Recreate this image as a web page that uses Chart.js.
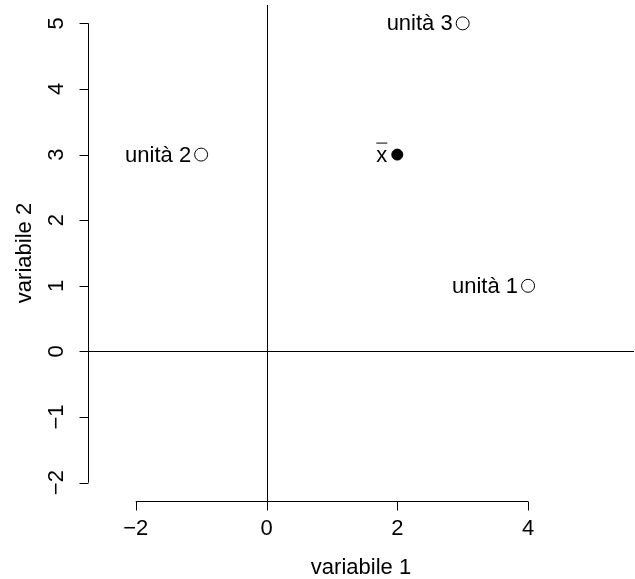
<!DOCTYPE html>
<html>
<head>
<meta charset="utf-8">
<script src="https://cdn.jsdelivr.net/npm/chart.js@4.4.0/dist/chart.umd.min.js"></script>
<style>
  html, body { margin: 0; padding: 0; background: #fff; }
  #wrap { width: 635px; height: 579px; }
</style>
</head>
<body>
<div id="wrap"><canvas id="chart" width="635" height="579"></canvas></div>
<script>
// Data
const unitLabels = ['unità 1', 'unità 2', 'unità 3'];
const unitX = [4, -1, 3];
const unitY = [1, 3, 5];
const meanX = [2];
const meanY = [3];
const xTicks = [-2, 0, 2, 4];
const yTicks = [-2, -1, 0, 1, 2, 3, 4, 5];
const xTitle = 'variabile 1';
const yTitle = 'variabile 2';

const FONT = '"Liberation Sans", Arial, sans-serif';
const minus = v => (v < 0 ? '\u2212' + Math.abs(v) : String(v));

// Draw R-style axes, reference lines and point labels
const rAxes = {
    id: 'rAxes',
    beforeDatasetsDraw(chart) {
        const ctx = chart.ctx;
        const xs = chart.scales.x;
        const ys = chart.scales.y;
        const area = chart.chartArea;
        ctx.save();
        ctx.strokeStyle = '#000';
        ctx.lineWidth = 1;

        // abline h=0, v=0
        const x0 = Math.round(xs.getPixelForValue(0)) + 0.5;
        const y0 = Math.round(ys.getPixelForValue(0)) + 0.5;
        ctx.beginPath();
        ctx.moveTo(area.left, y0);
        ctx.lineTo(area.right, y0);
        ctx.moveTo(x0, area.top);
        ctx.lineTo(x0, area.bottom);
        ctx.stroke();

        // x axis
        const ax = area.bottom + 0.5;
        ctx.beginPath();
        ctx.moveTo(xs.getPixelForValue(xTicks[0]), ax);
        ctx.lineTo(xs.getPixelForValue(xTicks[xTicks.length - 1]), ax);
        xTicks.forEach(t => {
            const px = Math.round(xs.getPixelForValue(t)) + 0.5;
            ctx.moveTo(px, ax);
            ctx.lineTo(px, ax + 9);
        });
        ctx.stroke();

        // y axis
        const ay = area.left + 0.5;
        ctx.beginPath();
        ctx.moveTo(ay, ys.getPixelForValue(yTicks[0]));
        ctx.lineTo(ay, ys.getPixelForValue(yTicks[yTicks.length - 1]));
        yTicks.forEach(t => {
            const py = Math.round(ys.getPixelForValue(t)) + 0.5;
            ctx.moveTo(ay, py);
            ctx.lineTo(ay - 9, py);
        });
        ctx.stroke();

        ctx.fillStyle = '#000';
        ctx.font = '22px ' + FONT;
        ctx.textAlign = 'center';
        ctx.textBaseline = 'alphabetic';
        xTicks.forEach(t => {
            ctx.fillText(minus(t), xs.getPixelForValue(t), 535);
        });
        yTicks.forEach(t => {
            ctx.save();
            ctx.translate(63, ys.getPixelForValue(t));
            ctx.rotate(-Math.PI / 2);
            ctx.fillText(minus(t), 0, 0);
            ctx.restore();
        });

        // axis titles
        ctx.fillText(xTitle, (area.left + area.right) / 2, 574);
        ctx.save();
        ctx.translate(31, (area.top + area.bottom) / 2);
        ctx.rotate(-Math.PI / 2);
        ctx.fillText(yTitle, 0, 0);
        ctx.restore();

        // point labels (pos = 2, left of point)
        ctx.textAlign = 'right';
        ctx.textBaseline = 'middle';
        unitLabels.forEach((lab, i) => {
            ctx.fillText(lab, xs.getPixelForValue(unitX[i]) - 10, ys.getPixelForValue(unitY[i]) + 1);
        });
        const mx = xs.getPixelForValue(meanX[0]) - 10;
        const my = ys.getPixelForValue(meanY[0]) + 1;
        ctx.fillText('x', mx, my);
        const w = ctx.measureText('x').width;
        ctx.beginPath();
        ctx.moveTo(mx - w, my - 12.5);
        ctx.lineTo(mx, my - 12.5);
        ctx.stroke();
        ctx.restore();
    }
};

new Chart(document.getElementById('chart'), {
    type: 'scatter',
    data: {
        datasets: [
            {
                label: 'unità',
                data: unitX.map((x, i) => ({ x: x, y: unitY[i] })),
                pointStyle: 'circle',
                pointRadius: 6.5,
                pointBackgroundColor: '#fff',
                pointBorderColor: '#000',
                pointBorderWidth: 1
            },
            {
                label: 'media',
                data: meanX.map((x, i) => ({ x: x, y: meanY[i] })),
                pointStyle: 'circle',
                pointRadius: 5.5,
                pointBackgroundColor: '#000',
                pointBorderColor: '#000',
                pointBorderWidth: 1
            }
        ]
    },
    options: {
        responsive: false,
        animation: false,
        layout: { autoPadding: false, padding: { left: 88, right: 1, top: 5, bottom: 78 } },
        scales: {
            x: { type: 'linear', min: -2.73, max: 5.62, display: false },
            y: { type: 'linear', min: -2.28, max: 5.28, display: false }
        },
        plugins: {
            legend: { display: false },
            tooltip: { enabled: false }
        }
    },
    plugins: [rAxes]
});
</script>
</body>
</html>
